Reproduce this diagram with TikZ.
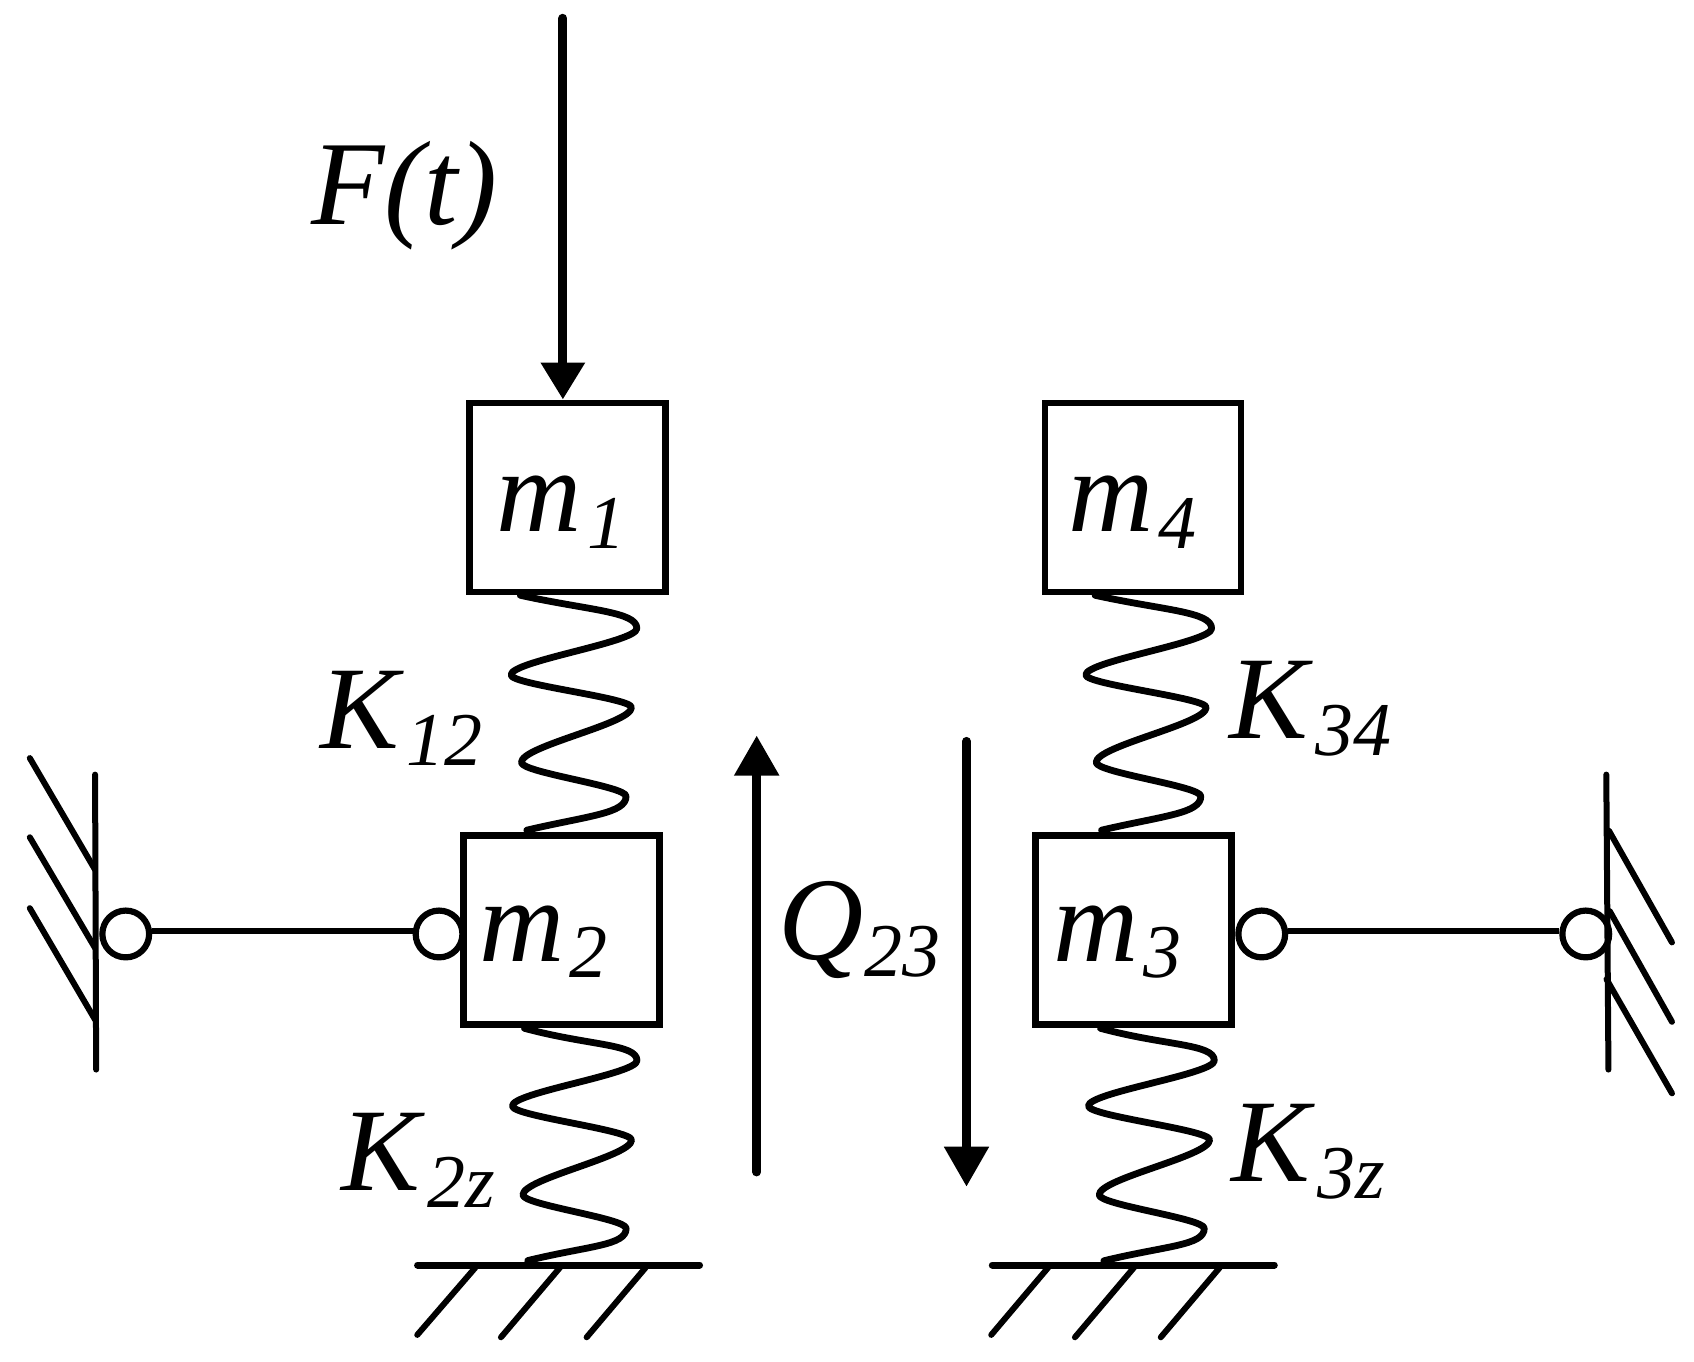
\documentclass[tikz,border=0pt]{standalone}
\usepackage{fontspec}
\setmainfont{Liberation Serif}
\usetikzlibrary{arrows.meta}
\newcommand{\mainf}{\fontsize{59}{59}\selectfont\itshape}
\newcommand{\subf}{\fontsize{38}{38}\selectfont\itshape}
\newcommand{\lbl}[3]{{\mainf #2}\kern#1\raisebox{-8.4pt}{\subf #3}}
% coil pieces: from extreme to extreme with vertical tangents
\newcommand{\sg}[4]{.. controls (#1,{#2+0.3*(#4-#2)}) and (#3,{#4-0.3*(#4-#2)}) .. (#3,#4)}
\tikzset{
  massbox/.style={draw=black,line width=3.4pt,rectangle,inner sep=0pt,minimum width=98pt,minimum height=94.5pt},
  pin/.style={draw=black,line width=3.1pt,circle,inner sep=0pt,minimum size=23.4pt},
  lab/.style={inner sep=0pt,anchor=base west,text=black},
  coil/.style={line width=3.4pt,line cap=round,line join=round},
  rod/.style={line width=3.1pt},
  wall/.style={line width=3pt,line cap=round},
  ground/.style={line width=3.5pt,line cap=round},
  hatch/.style={line width=3pt,line cap=round},
  force/.style={line width=4.6pt,line cap=round,-{Triangle[length=18.5pt,width=21pt]}},
  load/.style={line width=4.2pt,line cap=round,-{Triangle[length=20pt,width=21.5pt]}}
}
\begin{document}
\begin{tikzpicture}[x=0.54018pt,y=-0.54018pt]
\useasboundingbox (0,0) rectangle (1568,1259.8);
% masses
\node[massbox] (m1) at (525.5,460.5) {};
\node[massbox] (m4) at (1058,460.5) {};
\node[massbox] (m2) at (519.5,860.5) {};
\node[massbox] (m3) at (1049.5,860.5) {};
\node[lab] (tm1) at (459.5,492) {\lbl{2.5pt}{m}{1}};
\node[lab] (tm4) at (988.5,492) {\lbl{2.5pt}{m}{4}};
\node[lab] (tm2) at (443.5,889.6) {\lbl{2.5pt}{m}{2}};
\node[lab] (tm3) at (975,889.6) {\lbl{2.5pt}{m}{3}};
% force
\coordinate (ftop) at (521,17);
\draw[force] (ftop) -- (ftop |- m1.north);
\node[lab] (tf) at (287.5,208) {{\fontsize{60}{60}\selectfont\itshape F(t)}};
% springs
\draw[coil] (481.6,551) .. controls (545,565) and (589.5,566) .. (589.5,581.7)
  \sg{589.5}{581.7}{473}{624.7} \sg{473}{624.7}{584.5}{654.8} \sg{584.5}{654.8}{482.6}{705.7}
  \sg{482.6}{705.7}{579.5}{737} .. controls (579.5,753) and (545,755) .. (487.6,768.4);
\draw[coil] (1013.6,551) .. controls (1077,565) and (1121.5,566) .. (1121.5,581.7)
  \sg{1121.5}{581.7}{1005}{624.7} \sg{1005}{624.7}{1116.5}{654.8} \sg{1116.5}{654.8}{1014.6}{705.7}
  \sg{1014.6}{705.7}{1111.5}{737} .. controls (1111.5,753) and (1077,755) .. (1019.6,768.4);
\draw[coil] (485.4,951.8) .. controls (545,968) and (589.6,966) .. (589.6,981.7)
  \sg{589.6}{981.7}{474.2}{1023.7} \sg{474.2}{1023.7}{584.6}{1055.2} \sg{584.6}{1055.2}{484}{1106}
  \sg{484}{1106}{579.6}{1137} .. controls (579.6,1153) and (545,1153) .. (488.5,1166.8);
\draw[coil] (1018.6,951.8) .. controls (1078,968) and (1124,966) .. (1124,981.7)
  \sg{1124}{981.7}{1007.4}{1023.7} \sg{1007.4}{1023.7}{1119.7}{1055} \sg{1119.7}{1055}{1017.4}{1106}
  \sg{1017.4}{1106}{1114.7}{1137} .. controls (1114.7,1153) and (1079,1153) .. (1021.7,1167);
\node[lab] (tk12) at (296.5,693) {\lbl{3.5pt}{K}{12}};
\node[lab] (tk34) at (1138,683.7) {\lbl{3.5pt}{K}{34}};
\node[lab] (tk2z) at (316,1102) {\lbl{3.5pt}{K}{2z}};
\node[lab] (tk3z) at (1139.5,1093.7) {\lbl{3.5pt}{K}{3z}};
% Q arrows
\coordinate (qua) at (700.4,1085);
\coordinate (qub) at (700.4,680.8);
\coordinate (qda) at (894.6,686);
\coordinate (qdb) at (894.6,1098.4);
\draw[load] (qua) -- (qub);
\draw[load] (qda) -- (qdb);
\node[lab] (tq) at (720,888) {\lbl{0.5pt}{Q}{23}};
% pins and rods
\node[pin] (p1) at (116.4,864.5) {};
\node[pin] (p2) at (406.4,864.5) {};
\node[pin] (p3) at (1167.9,864.5) {};
\node[pin] (p4) at (1467.8,864.5) {};
\draw[rod] (p1.7) -- (p2.173);
\draw[rod] (p3.7) -- (p4.173);
% left wall
\coordinate (wl1) at (88,717); \coordinate (wl2) at (89,990);
\draw[wall] (wl1) -- (wl2);
\draw[hatch] (27.6,701.7) -- (88,805);
\draw[hatch] (27.6,775) -- (88,877.5);
\draw[hatch] (27.6,840.6) -- (88,943.8);
% right wall
\coordinate (wr1) at (1486.8,717); \coordinate (wr2) at (1488.8,990);
\draw[wall] (wr1) -- (wr2);
\draw[hatch] (1489.3,769) -- (1547.6,872.3);
\draw[hatch] (1490,843.4) -- (1547.6,945.8);
\draw[hatch] (1487,906.4) -- (1547.6,1012);
% grounds
\coordinate (gl1) at (386.5,1170.9); \coordinate (gl2) at (647.5,1170.9);
\coordinate (gr1) at (918.5,1170.9); \coordinate (gr2) at (1179.5,1170.9);
\draw[ground] (gl1) -- (gl2);
\draw[ground] (gr1) -- (gr2);
\draw[hatch] (440,1173.3) -- (386.2,1235.6);
\draw[hatch] (518.3,1173.3) -- (463.7,1237.8);
\draw[hatch] (597.6,1173.3) -- (543,1237.8);
\draw[hatch] (970.2,1173.3) -- (917.5,1235.6);
\draw[hatch] (1049.6,1173.3) -- (995,1237.8);
\draw[hatch] (1129,1173.3) -- (1074.4,1237.8);
\end{tikzpicture}
\end{document}
